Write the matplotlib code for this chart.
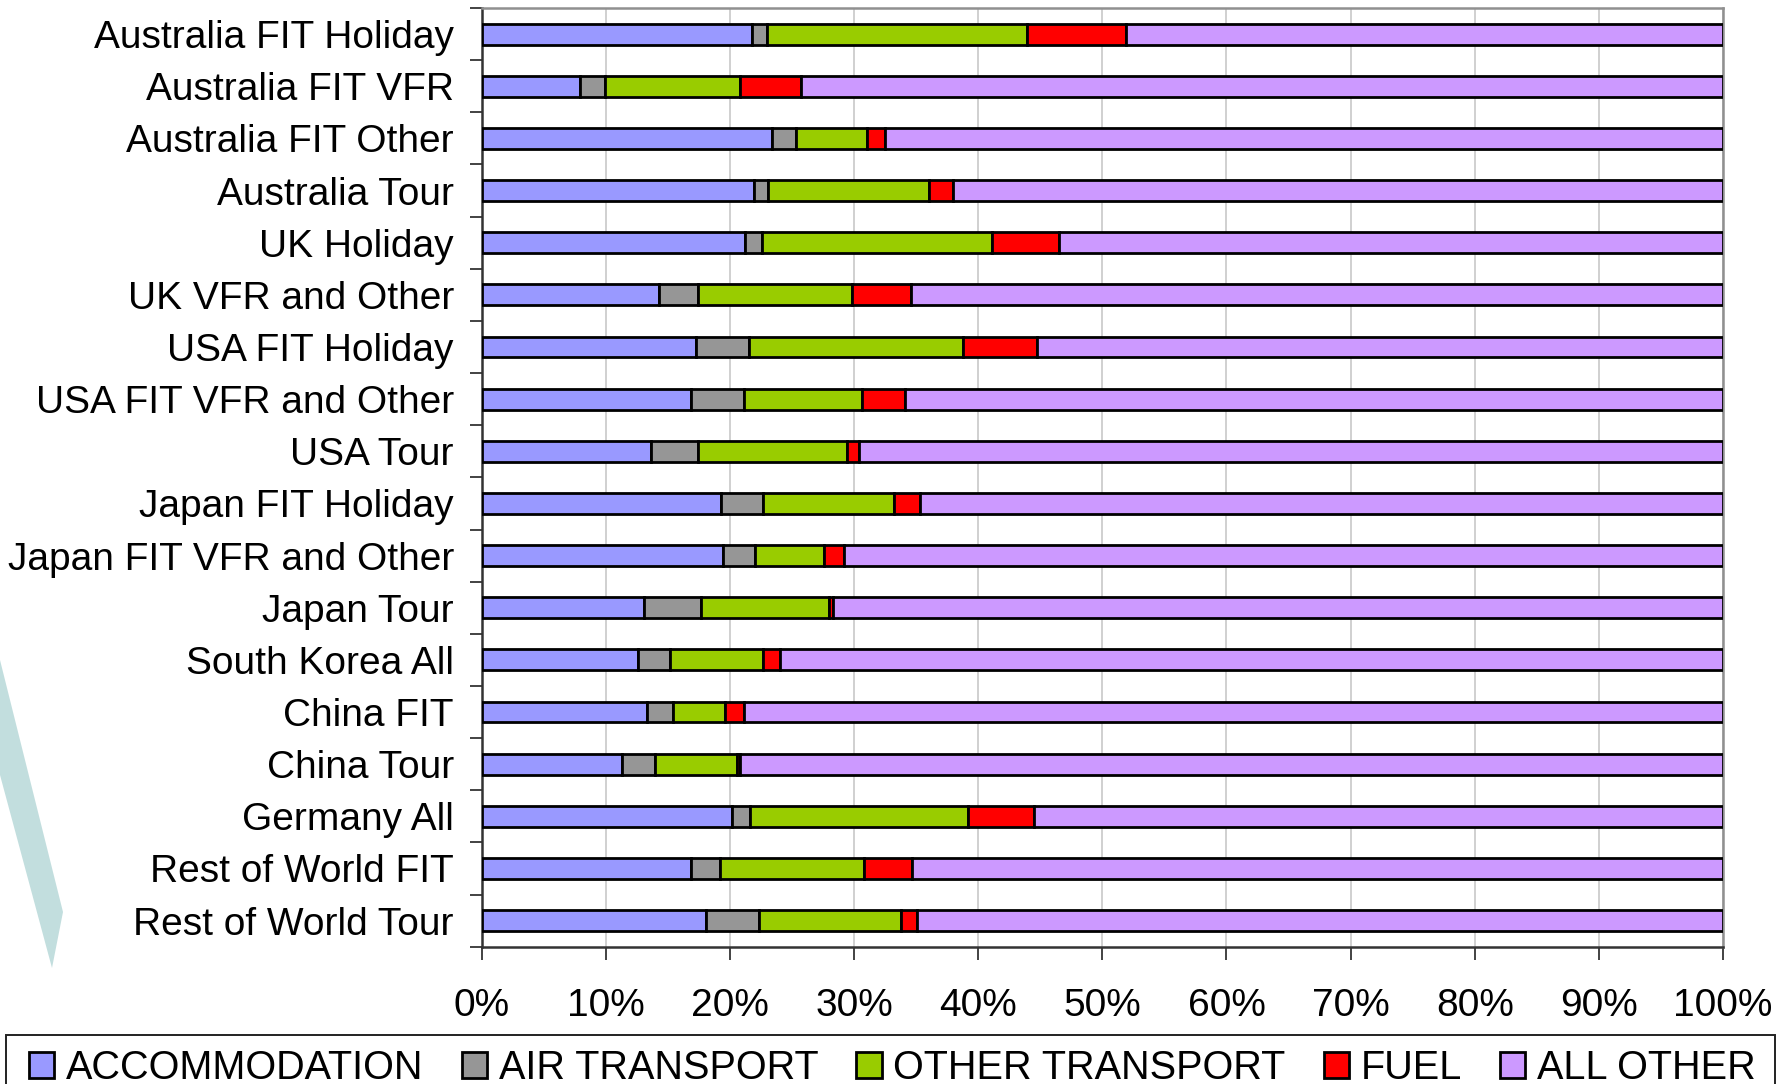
import matplotlib.pyplot as plt
import matplotlib.patches as patches
import numpy as np

plt.rcParams['font.family'] = ['Liberation Sans', 'DejaVu Sans']

categories = [
    "Australia FIT Holiday", "Australia FIT VFR", "Australia FIT Other",
    "Australia Tour", "UK Holiday", "UK VFR and Other", "USA FIT Holiday",
    "USA FIT VFR and Other", "USA Tour", "Japan FIT Holiday",
    "Japan FIT VFR and Other", "Japan Tour", "South Korea All", "China FIT",
    "China Tour", "Germany All", "Rest of World FIT", "Rest of World Tour",
]

# shares of spend, percent
accommodation   = [21.8, 7.9, 23.4, 21.9, 21.2, 14.3, 17.3, 16.9, 13.6, 19.3, 19.4, 13.1, 12.6, 13.3, 11.3, 20.2, 16.9, 18.1]
air_transport   = [1.2, 2.0, 1.9, 1.2, 1.4, 3.1, 4.2, 4.2, 3.8, 3.4, 2.6, 4.6, 2.6, 2.1, 2.7, 1.4, 2.3, 4.2]
other_transport = [20.9, 10.9, 5.7, 12.9, 18.5, 12.4, 17.3, 9.5, 12.0, 10.5, 5.6, 10.3, 7.5, 4.2, 6.6, 17.6, 11.6, 11.5]
fuel            = [8.0, 4.9, 1.5, 2.0, 5.4, 4.8, 5.9, 3.5, 1.0, 2.1, 1.6, 0.3, 1.3, 1.5, 0.2, 5.3, 3.9, 1.3]
all_other       = [48.1, 74.3, 67.5, 62.0, 53.5, 65.4, 55.3, 65.9, 69.6, 64.7, 70.8, 71.7, 76.0, 78.9, 79.2, 55.5, 65.3, 64.9]

series_names = ["ACCOMMODATION", "AIR TRANSPORT", "OTHER TRANSPORT", "FUEL", "ALL OTHER"]
series_colors = ["#9999FF", "#969696", "#99CC00", "#FF0000", "#CC99FF"]

W, H = 1777, 1084
fig = plt.figure(figsize=(W / 100, H / 100), dpi=100)
ax = fig.add_axes([481.7 / W, 1 - 946.7 / H, (1723 - 481.7) / W, (946.7 - 8) / H])

# pale teal sliver on the left margin
sliver = patches.Polygon(
    [(0 / W, 1 - 660 / H), (63 / W, 1 - 912 / H), (52 / W, 1 - 968 / H), (0 / W, 1 - 775 / H)],
    closed=True, transform=fig.transFigure, facecolor="#c2dede", edgecolor="none", zorder=0)
fig.patches.append(sliver)

y = np.arange(len(categories))
left = np.zeros(len(categories))
data = [accommodation, air_transport, other_transport, fuel, all_other]
for vals, name, col in zip(data, series_names, series_colors):
    vals = np.array(vals)
    ax.barh(y, vals, left=left, height=0.4, color=col, edgecolor="black",
            linewidth=2.0, label=name, zorder=3)
    left += vals

ax.set_xlim(0, 100)
ax.set_ylim(len(categories) - 0.5, -0.5)

ax.set_xticks(np.arange(0, 101, 10))
ax.set_xticklabels([f"{v}%" for v in range(0, 101, 10)])
ax.set_yticks(y)
ax.set_yticklabels(categories)
ax.set_yticks(np.arange(-0.5, len(categories)), minor=True)

ax.tick_params(axis="x", length=9, width=1.2, color="#222", pad=21, labelsize=28)
ax.tick_params(axis="y", which="major", length=0, pad=20, labelsize=28)
ax.tick_params(axis="y", which="minor", length=9, width=1.2, color="#222")

ax.grid(True, axis="x", color="#c8c8c8", linewidth=1.2, zorder=0)
ax.set_axisbelow(True)

for side in ["top", "right"]:
    ax.spines[side].set_color("#909090")
    ax.spines[side].set_linewidth(1.8)
for side in ["left", "bottom"]:
    ax.spines[side].set_color("#333333")
    ax.spines[side].set_linewidth(1.8)

# legend frame running off the bottom edge
frame = patches.Rectangle((6 / W, 1 - 1095 / H), 1769 / W, 60 / H, transform=fig.transFigure,
                          facecolor="white", edgecolor="#222", linewidth=1.4, zorder=1)
fig.patches.append(frame)

handles, labels = ax.get_legend_handles_labels()
fig.legend(handles, labels, loc="center left", ncol=5, mode="expand", frameon=False,
           bbox_to_anchor=(29 / W, 1 - 1073 / H, (1756 - 29) / W, 10 / H),
           borderpad=0, borderaxespad=0, handlelength=0.64, handleheight=0.64,
           handletextpad=0.3, fontsize=28.5)

fig.savefig("out.png", dpi=100)
